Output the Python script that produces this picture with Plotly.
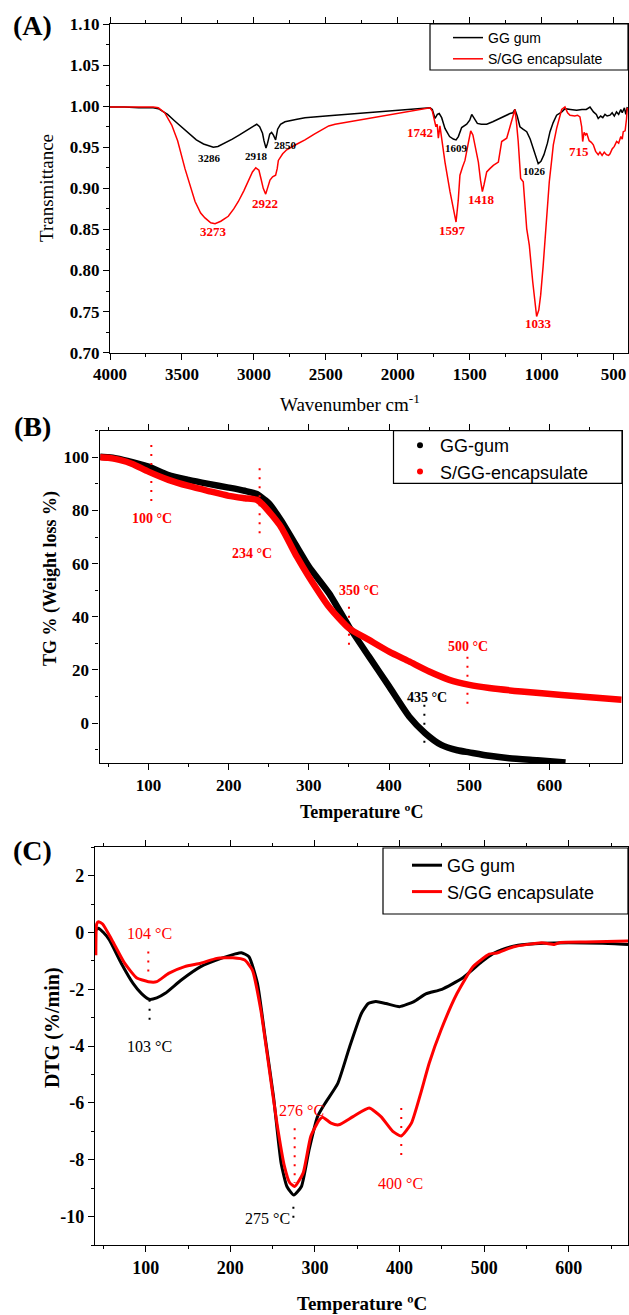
import plotly.graph_objects as go

W_PX, H_PX = 629, 1315

# ---------------- Panel A : FTIR ----------------
wn_gg = [4000, 3900, 3800, 3700, 3664, 3600, 3550, 3500, 3450, 3400, 3350, 3300, 3282, 3250,
         3200, 3150, 3100, 3050, 3000, 2980, 2960, 2940, 2930, 2916, 2905, 2890, 2877, 2865,
         2849, 2835, 2815, 2784, 2700, 2645, 2500, 2436, 1776, 1760, 1741, 1725, 1712, 1695,
         1672, 1640, 1614, 1595, 1579, 1556, 1521, 1500, 1486, 1470, 1447, 1420, 1382, 1340,
         1290, 1250, 1220, 1200, 1186, 1170, 1151, 1130, 1104, 1080, 1058, 1040, 1024, 1005,
         984, 960, 942, 920, 896, 860, 838, 800, 757, 720, 690, 664, 640, 620, 607, 590, 575,
         560, 545, 525, 510, 495, 480, 465, 450, 440, 425, 415, 405]
t_gg = [0.999, 0.999, 0.998, 0.998, 0.997, 0.990, 0.982, 0.974, 0.966, 0.959, 0.954, 0.951, 0.950, 0.951,
        0.955, 0.960, 0.965, 0.970, 0.975, 0.978, 0.975, 0.967, 0.958, 0.949, 0.955, 0.966, 0.968, 0.965,
        0.959, 0.972, 0.978, 0.981, 0.984, 0.986, 0.988, 0.989, 0.998, 0.996, 0.985, 0.990, 0.991, 0.986,
        0.973, 0.963, 0.960, 0.959, 0.963, 0.974, 0.978, 0.983, 0.990, 0.986, 0.979, 0.978, 0.978, 0.981,
        0.985, 0.989, 0.991, 0.992, 0.996, 0.988, 0.975, 0.972, 0.969, 0.960, 0.949, 0.938, 0.930, 0.933,
        0.941, 0.955, 0.969, 0.980, 0.989, 0.993, 0.997, 0.996, 0.995, 0.996, 0.996, 0.999, 0.993, 0.990, 0.985, 0.988, 0.986,
        0.990, 0.988, 0.989, 0.992, 0.988, 0.993, 0.990, 0.996, 0.992, 0.998, 0.990, 0.999]

wn_sgg = [4000, 3900, 3800, 3700, 3664, 3620, 3571, 3530, 3479, 3440, 3409, 3370, 3340, 3300,
          3270, 3230, 3178, 3140, 3108, 3070, 3039, 3010, 2987, 2965, 2951, 2935, 2918, 2905,
          2888, 2870, 2849, 2838, 2830, 2800, 2772, 2700, 2645, 2580, 2529, 2480, 2436, 1776,
          1760, 1746, 1735, 1726, 1718, 1707, 1695, 1672, 1637, 1610, 1595, 1580, 1568, 1550,
          1533, 1510, 1493, 1478, 1463, 1440, 1425, 1412, 1400, 1382, 1360, 1336, 1301, 1278,
          1243, 1220, 1200, 1186, 1175, 1163, 1146, 1128, 1104, 1086, 1062, 1045, 1035, 1020,
          1007, 990, 977, 960, 947, 930, 919, 896, 875, 861, 838, 820, 803, 770, 750, 734, 722,
          715, 705, 695, 687, 670, 655, 641, 625, 607, 595, 580, 565, 550, 535, 525, 510, 495,
          479, 465, 450, 440, 433, 420, 410, 405]
t_sgg = [0.999, 0.999, 0.999, 0.999, 0.998, 0.992, 0.977, 0.958, 0.924, 0.900, 0.884, 0.870, 0.864, 0.858,
         0.857, 0.860, 0.866, 0.875, 0.884, 0.897, 0.910, 0.920, 0.925, 0.922, 0.912, 0.900, 0.893, 0.900,
         0.910, 0.914, 0.916, 0.924, 0.934, 0.942, 0.947, 0.954, 0.959, 0.966, 0.971, 0.976, 0.978, 0.998,
         0.994, 0.981, 0.975, 0.978, 0.961, 0.976, 0.961, 0.932, 0.896, 0.870, 0.859, 0.885, 0.916, 0.926,
         0.934, 0.955, 0.970, 0.965, 0.953, 0.932, 0.910, 0.896, 0.905, 0.920, 0.924, 0.928, 0.932, 0.957,
         0.961, 0.975, 0.990, 0.996, 0.980, 0.957, 0.912, 0.908, 0.851, 0.831, 0.786, 0.760, 0.744, 0.752,
         0.770, 0.805, 0.839, 0.880, 0.908, 0.935, 0.953, 0.973, 0.988, 0.996, 0.999, 0.992, 0.989, 0.988, 0.989, 0.987, 0.975,
         0.957, 0.968, 0.965, 0.967, 0.958, 0.956, 0.953, 0.945, 0.941, 0.944, 0.940, 0.944, 0.941, 0.940, 0.942, 0.948, 0.951,
         0.957, 0.955, 0.963, 0.960, 0.969, 0.970, 0.985, 0.998]

ftir_gg_labels = ["3286", "2918", "2850", "1609", "1026"]
ftir_gg_lx = [3307, 2983, 2777, 1591, 1051]
ftir_gg_ly = [0.937, 0.939, 0.953, 0.949, 0.921]
ftir_sgg_labels = ["3273", "2922", "1742", "1597", "1418", "1033", "715"]
ftir_sgg_lx = [3280, 2921, 1843, 1623, 1417, 1019, 739]
ftir_sgg_ly = [0.847, 0.882, 0.968, 0.849, 0.886, 0.735, 0.945]

ftir_xticks = [4000, 3500, 3000, 2500, 2000, 1500, 1000, 500]
ftir_yticks = [0.70, 0.75, 0.80, 0.85, 0.90, 0.95, 1.00, 1.05, 1.10]

# ---------------- Panel B : TG ----------------
tg_gg_T = [40, 50, 60, 80, 100, 125, 150, 175, 200, 220, 235, 245, 250, 265, 285, 300, 325, 350,
           375, 400, 425, 445, 465, 485, 500, 525, 550, 585, 620]
tg_gg_W = [100.2, 100, 99.6, 98.2, 96.5, 93.3, 91.5, 90, 88.6, 87.4, 86.2, 84, 82.7, 76.4, 66.4, 58.9, 48.9, 36.3,
           25, 13.8, 2.5, -3.8, -8.2, -10.2, -11, -12.3, -13.2, -14, -14.8]
tg_sgg_T = [40, 50, 64, 80, 100, 125, 150, 175, 200, 220, 235, 245, 265, 285, 300, 325, 350, 375,
            400, 425, 450, 475, 500, 525, 565, 615, 690]
tg_sgg_W = [100, 99.8, 99, 97.5, 94.6, 91.5, 89.2, 87.3, 85.5, 84.6, 84, 81.4, 73.9, 62.6, 55.1, 43.8, 35.7, 31.3,
            26.9, 23.2, 19.4, 16.3, 14.4, 13.2, 11.9, 10.6, 8.8]

tg_labels = ["100 °C", "234 °C", "350 °C", "500 °C", "435 °C"]
tg_label_T = [104, 229.5, 362, 498, 447]
tg_label_W = [77.1, 63.9, 50, 28.8, 9.6]
tg_label_col = ["red", "red", "red", "red", "black"]
tg_mark_T = [103.6, 238.6, 350, 497.7, 444]
tg_mark_W0 = [104.6, 95.9, 43.8, 25, 6.9]
tg_mark_W1 = [82, 70.2, 28.2, 6.2, -8.8]

tg_xticks = [100, 200, 300, 400, 500, 600]
tg_yticks = [0, 20, 40, 60, 80, 100]

# ---------------- Panel C : DTG ----------------
dtg_gg_T = [42, 44, 50, 57, 71, 85, 95, 104, 113, 123, 142, 165, 189, 205, 213, 222, 232, 241, 251, 260,
            267, 275, 284, 293, 303, 312, 327, 341, 355, 363, 372, 384, 400, 417, 431, 450, 474, 497,
            510, 521, 540, 570, 600, 640, 670]
dtg_gg_D = [0.1, 0.15, 0.0, -0.26, -1.08, -1.79, -2.15, -2.35, -2.3, -2.14, -1.67, -1.2, -0.91, -0.76, -0.71,
            -0.85, -1.79, -3.67, -5.78, -8.12, -8.95, -9.24, -8.94, -7.65, -6.48, -6.01, -5.31, -4.02, -2.84,
            -2.5, -2.43, -2.5, -2.61, -2.43, -2.16, -2.0, -1.61, -1.03, -0.75, -0.6, -0.45, -0.38, -0.36,
            -0.38, -0.42]
dtg_sgg_T = [41, 42, 44, 49, 60, 75, 89, 103, 113, 127, 146, 165, 184, 203, 217, 226, 236, 245, 255, 264,
             270, 276, 286, 295, 305, 309, 319, 328, 345, 364, 378, 392, 402, 414, 425, 435, 449, 468,
             487, 506, 515, 535, 568, 583, 590, 620, 670]
dtg_sgg_D = [-0.8, 0.3, 0.38, 0.3, -0.26, -1.08, -1.59, -1.73, -1.73, -1.44, -1.2, -1.08, -0.91, -0.89, -0.97,
             -1.32, -2.73, -4.6, -6.71, -8.24, -8.8, -8.94, -8.47, -7.18, -6.6, -6.5, -6.71, -6.77, -6.48,
             -6.18, -6.48, -7.0, -7.16, -6.71, -5.66, -4.6, -3.43, -2.14, -1.2, -0.76, -0.72, -0.5, -0.36,
             -0.42, -0.35, -0.33, -0.3]

dtg_labels = ["104 °C", "103 °C", "276 °C", "275 °C", "400 °C"]
dtg_label_T = [104.5, 104.3, 283.6, 244.3, 401.4]
dtg_label_D = [-0.05, -4.0, -6.28, -10.06, -8.82]
dtg_label_col = ["red", "black", "red", "black", "red"]
dtg_mark_T = [103, 104.5, 276, 274.5, 402]
dtg_mark_D0 = [-0.67, -2.37, -6.89, -9.65, -6.18]
dtg_mark_D1 = [-1.49, -3.25, -8.82, -10.1, -7.89]

dtg_xticks = [100, 200, 300, 400, 500, 600]
dtg_yticks = [-10, -8, -6, -4, -2, 0, 2]

assert len(wn_gg) == len(t_gg) and len(wn_sgg) == len(t_sgg)
assert len(tg_gg_T) == len(tg_gg_W) and len(tg_sgg_T) == len(tg_sgg_W)
assert len(dtg_gg_T) == len(dtg_gg_D) and len(dtg_sgg_T) == len(dtg_sgg_D)

RED = "#FF0000"
SERIF = "Liberation Serif"
SANS = "Liberation Sans"


def px(x):
    return x / W_PX


def py(y):
    return 1 - y / H_PX


def bold(vals, fmt="{}"):
    return ["<b>" + fmt.format(v) + "</b>" for v in vals]


fig = go.Figure()

# Panel A traces
fig.add_trace(go.Scatter(x=wn_gg, y=t_gg, mode="lines", name="GG gum",
                         line=dict(color="black", width=1.5), xaxis="x", yaxis="y", legend="legend"))
fig.add_trace(go.Scatter(x=wn_sgg, y=t_sgg, mode="lines", name="S/GG encapsulate",
                         line=dict(color=RED, width=1.5), xaxis="x", yaxis="y", legend="legend"))

# Panel B traces
fig.add_trace(go.Scatter(x=tg_gg_T, y=tg_gg_W, mode="lines", showlegend=False,
                         line=dict(color="black", width=6.5, shape="spline", smoothing=0.6), xaxis="x2", yaxis="y2"))
fig.add_trace(go.Scatter(x=tg_sgg_T, y=tg_sgg_W, mode="lines", showlegend=False,
                         line=dict(color=RED, width=6.5, shape="spline", smoothing=0.6), xaxis="x2", yaxis="y2"))
fig.add_trace(go.Scatter(x=[None], y=[None], mode="markers", name="GG-gum",
                         marker=dict(color="black", size=6), xaxis="x2", yaxis="y2", legend="legend2"))
fig.add_trace(go.Scatter(x=[None], y=[None], mode="markers", name="S/GG-encapsulate",
                         marker=dict(color=RED, size=6), xaxis="x2", yaxis="y2", legend="legend2"))

# Panel C traces
fig.add_trace(go.Scatter(x=dtg_gg_T, y=dtg_gg_D, mode="lines", name="GG gum",
                         line=dict(color="black", width=3, shape="spline", smoothing=0.5),
                         xaxis="x3", yaxis="y3", legend="legend3"))
fig.add_trace(go.Scatter(x=dtg_sgg_T, y=dtg_sgg_D, mode="lines", name="S/GG encapsulate",
                         line=dict(color=RED, width=3, shape="spline", smoothing=0.5),
                         xaxis="x3", yaxis="y3", legend="legend3"))


def axis_common(size, **kw):
    d = dict(showgrid=False, zeroline=False, showline=True, linecolor="black", linewidth=1.3,
             ticks="outside", ticklen=6, tickwidth=1.2, tickcolor="black", automargin=False,
             tickfont=dict(family=SERIF, size=size, color="black"), tickmode="array",
             mirror=True)
    d.update(kw)
    return d


def minor(dt, t0=0):
    return dict(dtick=dt, tick0=t0, ticks="outside", ticklen=3, tickwidth=1, tickcolor="black")


layout = dict(
    template="none",
    width=W_PX, height=H_PX, margin=dict(l=0, r=0, t=0, b=0, pad=0, autoexpand=False),
    paper_bgcolor="white", plot_bgcolor="white", showlegend=True,
    xaxis=axis_common(17, domain=[px(110), px(628)], range=[4000, 400],
                      tickvals=ftir_xticks, ticktext=bold(ftir_xticks),
                      mirror="allticks", anchor="y", minor=minor(250)),
    yaxis=axis_common(17, domain=[py(352.7), py(24)], range=[0.70, 1.10],
                      tickvals=ftir_yticks, ticktext=bold(ftir_yticks, "{:.2f}"),
                      anchor="x", minor=minor(0.025, 0.7)),
    xaxis2=axis_common(17, domain=[px(99.5), px(621.7)], range=[39, 690],
                       tickvals=tg_xticks, ticktext=bold(tg_xticks),
                       mirror="allticks", anchor="y2", minor=minor(50)),
    yaxis2=axis_common(17, domain=[py(763), py(430.7)], range=[-15, 110],
                       tickvals=tg_yticks, ticktext=bold(tg_yticks),
                       anchor="x2", minor=minor(10)),
    xaxis3=axis_common(18, domain=[px(95), px(628)], range=[40, 670],
                       tickvals=dtg_xticks, ticktext=bold(dtg_xticks),
                       mirror="allticks", anchor="y3", minor=minor(50)),
    yaxis3=axis_common(18, domain=[py(1245), py(847.3)], range=[-11, 3],
                       tickvals=dtg_yticks, ticktext=bold(dtg_yticks),
                       anchor="x3", minor=minor(1)),
    legend=dict(x=px(448), y=py(22), xanchor="left", yanchor="top", bgcolor="rgba(0,0,0,0)",
                font=dict(family=SANS, size=14, color="black"), tracegroupgap=0, itemwidth=30),
    legend2=dict(x=px(400), y=py(427), xanchor="left", yanchor="top", bgcolor="rgba(0,0,0,0)",
                 font=dict(family=SANS, size=18, color="black"), itemwidth=30),
    legend3=dict(x=px(407), y=py(847), xanchor="left", yanchor="top", bgcolor="rgba(0,0,0,0)",
                 font=dict(family=SANS, size=18, color="black"), itemwidth=30),
)
fig.update_layout(**layout)

shapes = []
# legend boxes
for (x0, y0, x1, y1) in [(430, 24, 628, 70), (393.5, 430.7, 622, 483.3), (383, 848, 628, 914)]:
    shapes.append(dict(type="rect", xref="paper", yref="paper", x0=px(x0), x1=px(x1), y0=py(y1), y1=py(y0),
                       line=dict(color="black", width=1.2), fillcolor="rgba(0,0,0,0)"))
DOT = "2px,7px"
for T, w0, w1, c in zip(tg_mark_T, tg_mark_W0, tg_mark_W1, tg_label_col):
    shapes.append(dict(type="line", xref="x2", yref="y2", x0=T, x1=T, y0=w0, y1=w1,
                       line=dict(color=RED if c == "red" else "black", width=2, dash=DOT)))
for T, d0, d1, c in zip(dtg_mark_T, dtg_mark_D0, dtg_mark_D1, dtg_label_col):
    shapes.append(dict(type="line", xref="x3", yref="y3", x0=T, x1=T, y0=d0, y1=d1,
                       line=dict(color=RED if c == "red" else "black", width=2, dash=DOT)))
fig.update_layout(shapes=shapes)

ann = []
C = dict(xanchor="center", yanchor="middle", showarrow=False)
for t, x, y in zip(ftir_gg_labels, ftir_gg_lx, ftir_gg_ly):
    ann.append(dict(text="<b>" + t + "</b>", x=x, y=y, xref="x", yref="y",
                    font=dict(family=SERIF, size=11, color="black"), **C))
for t, x, y in zip(ftir_sgg_labels, ftir_sgg_lx, ftir_sgg_ly):
    ann.append(dict(text="<b>" + t + "</b>", x=x, y=y, xref="x", yref="y",
                    font=dict(family=SERIF, size=13, color=RED), **C))
for t, x, y, c in zip(tg_labels, tg_label_T, tg_label_W, tg_label_col):
    ann.append(dict(text="<b>" + t + "</b>", x=x, y=y, xref="x2", yref="y2",
                    font=dict(family=SERIF, size=14, color=RED if c == "red" else "black"), **C))
for t, x, y, c in zip(dtg_labels, dtg_label_T, dtg_label_D, dtg_label_col):
    ann.append(dict(text=t, x=x, y=y, xref="x3", yref="y3",
                    font=dict(family=SERIF, size=16, color=RED if c == "red" else "black"), **C))

for t, y in [("(A)", 26), ("(B)", 427), ("(C)", 850)]:
    ann.append(dict(text="<b>" + t + "</b>", x=px(32), y=py(y), xref="paper", yref="paper",
                    font=dict(family=SERIF, size=28, color="black"), **C))

ann.append(dict(text="Wavenumber cm<sup>-1</sup>", x=px(350), y=py(403), xref="paper", yref="paper",
                font=dict(family=SERIF, size=19, color="black"), **C))
ann.append(dict(text="Transmittance", x=px(46), y=py(188), xref="paper", yref="paper", textangle=-90,
                font=dict(family=SERIF, size=19, color="black"), **C))
ann.append(dict(text="<b>Temperature ºC</b>", x=px(361), y=py(811.7), xref="paper", yref="paper",
                font=dict(family=SERIF, size=18, color="black"), **C))
ann.append(dict(text="<b>TG % (Weight loss %)</b>", x=px(50), y=py(579), xref="paper", yref="paper",
                textangle=-90, font=dict(family=SERIF, size=18, color="black"), **C))
ann.append(dict(text="<b>Temperature ºC</b>", x=px(362), y=py(1303), xref="paper", yref="paper",
                font=dict(family=SERIF, size=19, color="black"), **C))
ann.append(dict(text="<b>DTG (%/min)</b>", x=px(52), y=py(1027), xref="paper", yref="paper",
                textangle=-90, font=dict(family=SERIF, size=20, color="black"), **C))
fig.update_layout(annotations=ann)

fig.write_html("out.html", config={"displayModeBar": False},
               post_script="document.body.style.margin='0';document.body.style.padding='0';"
                           "document.body.style.overflow='hidden';")
